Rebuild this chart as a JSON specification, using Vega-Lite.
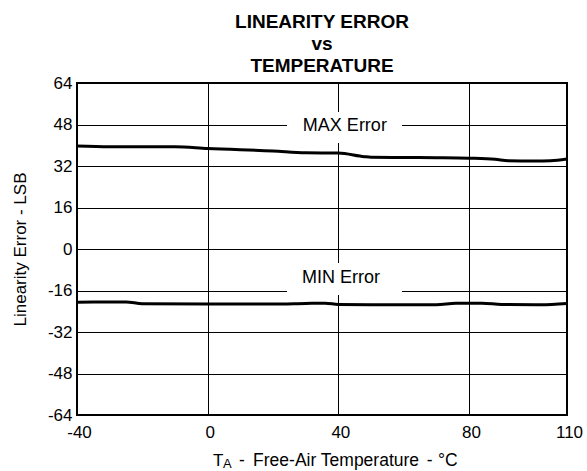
{
  "$schema": "https://vega.github.io/schema/vega-lite/v6.json",
  "width": 490,
  "height": 332,
  "autosize": "none",
  "padding": {"left": 77, "top": 83, "right": 20, "bottom": 56},
  "background": "white",
  "config": {
    "font": "Liberation Sans",
    "view": {"stroke": "black", "strokeWidth": 2}
  },
  "title": {
    "text": ["LINEARITY ERROR", "vs", "TEMPERATURE"],
    "fontSize": 19,
    "fontWeight": "bold",
    "lineHeight": 22,
    "anchor": "middle",
    "offset": -2,
    "color": "black",
    "font": "Liberation Sans"
  },
  "datasets": {
    "curves": [
      {"series": "MAX", "t": -40, "e": 39.7},
      {"series": "MAX", "t": -30, "e": 39.4},
      {"series": "MAX", "t": -10, "e": 39.4},
      {"series": "MAX", "t": 0, "e": 38.7},
      {"series": "MAX", "t": 20, "e": 37.8},
      {"series": "MAX", "t": 30, "e": 37.1},
      {"series": "MAX", "t": 40, "e": 37.0},
      {"series": "MAX", "t": 48, "e": 35.6},
      {"series": "MAX", "t": 50, "e": 35.4},
      {"series": "MAX", "t": 60, "e": 35.3},
      {"series": "MAX", "t": 70, "e": 35.2},
      {"series": "MAX", "t": 80, "e": 35.0},
      {"series": "MAX", "t": 88, "e": 34.6},
      {"series": "MAX", "t": 92, "e": 34.0},
      {"series": "MAX", "t": 100, "e": 33.9},
      {"series": "MAX", "t": 105, "e": 34.0},
      {"series": "MAX", "t": 110, "e": 34.7},
      {"series": "MIN", "t": -40, "e": -20.5},
      {"series": "MIN", "t": -25, "e": -20.4},
      {"series": "MIN", "t": -20, "e": -21.1},
      {"series": "MIN", "t": 0, "e": -21.2},
      {"series": "MIN", "t": 20, "e": -21.2},
      {"series": "MIN", "t": 30, "e": -21.0},
      {"series": "MIN", "t": 36, "e": -20.9},
      {"series": "MIN", "t": 40, "e": -21.4},
      {"series": "MIN", "t": 50, "e": -21.5},
      {"series": "MIN", "t": 70, "e": -21.5},
      {"series": "MIN", "t": 76, "e": -20.9},
      {"series": "MIN", "t": 84, "e": -20.9},
      {"series": "MIN", "t": 90, "e": -21.4},
      {"series": "MIN", "t": 102, "e": -21.5},
      {"series": "MIN", "t": 110, "e": -21.0}
    ],
    "labels": [
      {"label": "MAX Error", "t": 42, "e": 47.4, "t1": 24.3, "t2": 59.5, "e1": 40.9, "e2": 52.8},
      {"label": "MIN Error", "t": 40.8, "e": -11.2, "t1": 24.3, "t2": 59.5, "e1": -17.7, "e2": -5.4}
    ],
    "xtitle": [
      {"piece": "-", "t": 9.6},
      {"piece": "Free-Air Temperature", "t": 13.9},
      {"piece": "-", "t": 67.1},
      {"piece": "°C", "t": 70.5}
    ]
  },
  "layer": [
    {
      "data": {"name": "curves"},
      "mark": {"type": "line", "strokeWidth": 3, "color": "black", "interpolate": "monotone", "clip": true},
      "encoding": {
        "x": {
          "field": "t", "type": "quantitative",
          "scale": {"domain": [-40, 110], "nice": false, "zero": false},
          "axis": {
            "values": [-40, 0, 40, 80, 110],
            "labelExpr": "datum.value < 0 ? '-' + abs(datum.value) : '' + datum.value",
            "labelFlush": false, "labelOffset": 2, "labelOverlap": false,
            "grid": true, "gridColor": "black", "gridOpacity": 1, "gridWidth": 1,
            "domain": false, "ticks": false,
            "labelFontSize": 17, "labelColor": "black", "labelPadding": 9,
            "labelFont": "Liberation Sans",
            "title": null
          }
        },
        "y": {
          "field": "e", "type": "quantitative",
          "scale": {"domain": [-64, 64], "nice": false, "zero": false},
          "axis": {
            "values": [-64, -48, -32, -16, 0, 16, 32, 48, 64],
            "labelExpr": "datum.value < 0 ? '-' + abs(datum.value) : '' + datum.value",
            "grid": true, "gridColor": "black", "gridOpacity": 1, "gridWidth": 1,
            "domain": false, "ticks": false,
            "labelFontSize": 17, "labelColor": "black", "labelPadding": 5,
            "labelFont": "Liberation Sans",
            "title": "Linearity Error - LSB",
            "titleFont": "Liberation Sans",
            "titleFontSize": 17, "titleFontWeight": "normal", "titleColor": "black",
            "titleX": -48, "titleY": 166, "titleAngle": -90,
            "titleAlign": "center", "titleBaseline": "bottom"
          }
        },
        "detail": {"field": "series"}
      }
    },
    {
      "data": {"name": "labels"},
      "mark": {"type": "rect", "fill": "white"},
      "encoding": {
        "x": {"field": "t1", "type": "quantitative"},
        "x2": {"field": "t2"},
        "y": {"field": "e1", "type": "quantitative"},
        "y2": {"field": "e2"}
      }
    },
    {
      "data": {"name": "labels"},
      "mark": {"type": "text", "fontSize": 18, "color": "black", "align": "center", "baseline": "middle", "font": "Liberation Sans"},
      "encoding": {
        "x": {"field": "t", "type": "quantitative"},
        "y": {"field": "e", "type": "quantitative"},
        "text": {"field": "label"}
      }
    },
    {
      "data": {"values": [{}]},
      "mark": {"type": "text", "fontSize": 17, "color": "black", "align": "left", "baseline": "alphabetic", "dy": 51, "font": "Liberation Sans"},
      "encoding": {
        "x": {"datum": 1.6, "type": "quantitative"},
        "y": {"datum": -64, "type": "quantitative"},
        "text": {"value": "T"}
      }
    },
    {
      "data": {"values": [{}]},
      "mark": {"type": "text", "fontSize": 13, "color": "black", "align": "left", "baseline": "alphabetic", "dy": 53, "font": "Liberation Sans"},
      "encoding": {
        "x": {"datum": 4.7, "type": "quantitative"},
        "y": {"datum": -64, "type": "quantitative"},
        "text": {"value": "A"}
      }
    },
    {
      "data": {"name": "xtitle"},
      "mark": {"type": "text", "fontSize": 17.5, "color": "black", "align": "left", "baseline": "alphabetic", "dy": 51, "font": "Liberation Sans"},
      "encoding": {
        "x": {"field": "t", "type": "quantitative"},
        "y": {"datum": -64, "type": "quantitative"},
        "text": {"field": "piece"}
      }
    }
  ]
}
